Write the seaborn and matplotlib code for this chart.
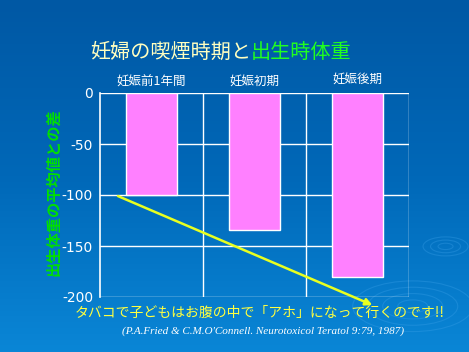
import numpy as np
import pandas as pd
import matplotlib
matplotlib.use('Agg')
import matplotlib.pyplot as plt
import seaborn as sns

periods = ['妊娠前1年間', '妊娠初期', '妊娠後期']
diff = [-100, -134, -180]
yticks = [0, -50, -100, -150, -200]

df = pd.DataFrame({'period': periods, 'diff': diff})

sns.set_theme(style='white')
plt.rcParams['font.family'] = ['Noto Sans CJK JP', 'DejaVu Sans']

fig = plt.figure(figsize=(4.69, 3.52), dpi=100)

# blue gradient background
bg = fig.add_axes([0, 0, 1, 1], zorder=-10)
grad = np.linspace(0, 1, 256).reshape(-1, 1)
cmap = matplotlib.colors.LinearSegmentedColormap.from_list('bg', ['#0058a4', '#0068b8', '#0a86d6'])
bg.imshow(grad, aspect='auto', cmap=cmap, extent=[0, 1, 0, 1], origin='upper')
# faint ripples bottom right
for r in [0.04, 0.08, 0.12, 0.16]:
    bg.add_patch(matplotlib.patches.Ellipse((0.88, 0.13), r * 1.6, r * 0.9, fill=False,
                                            ec='#3aa0e8', lw=0.8, alpha=0.35))
for r in [0.02, 0.04, 0.06]:
    bg.add_patch(matplotlib.patches.Ellipse((0.95, 0.30), r * 1.6, r * 0.9, fill=False,
                                            ec='#3aa0e8', lw=0.8, alpha=0.35))
bg.set_xlim(0, 1)
bg.set_ylim(0, 1)
bg.axis('off')

ax = fig.add_axes([100 / 469, 1 - 297 / 352, 309 / 469, 204 / 352])
ax.set_facecolor('none')
sns.barplot(data=df, x='period', y='diff', color='#ff80ff', width=0.49,
            edgecolor='white', linewidth=1, saturation=1, ax=ax, zorder=3)
ax.set_ylim(-200, 0)
ax.set_xlim(-0.5, 2.5)
ax.set_yticks(yticks)
ax.set_yticklabels([str(v) for v in yticks], color='white', fontsize=10, family='DejaVu Sans')
ax.tick_params(axis='y', length=5, color='white', width=1, pad=0)
ax.set_xticks([])
ax.set_xlabel('')
ax.set_ylabel('')
for v in [-50, -100, -150, -200, 0]:
    ax.axhline(v, color='white', lw=1, zorder=1)
for v in [0.5, 1.5, 2.5]:
    ax.axvline(v, color='white', lw=1, zorder=1)
for s in ax.spines.values():
    s.set_visible(False)
ax.spines['left'].set_visible(True)
ax.spines['left'].set_color('white')
ax.spines['left'].set_linewidth(1.2)

# y label, placed by hand so it sits close to the ticks as in the slide
fig.text(53 / 469, 1 - 192 / 352, '出生体重の平均値との差', rotation=90, ha='center', va='center',
         color='#00e000', fontsize=11, fontweight='bold')

# category labels above the plot
for i, p in enumerate(periods):
    ax.text(i, 4 + (2 if i == 2 else 0), p, ha='center', va='bottom', color='white', fontsize=9)

# yellow arrow
ax.annotate('', xy=(2.17, -209), xytext=(-0.35, -100), annotation_clip=False,
            arrowprops=dict(arrowstyle='-|>', color='#e8ff20', lw=1.8, mutation_scale=10),
            zorder=5)

# title: two colours
fig.text(0.535, 0.852, '妊婦の喫煙時期と', ha='right', va='center', color='#ffffc0', fontsize=14.5)
fig.text(0.535, 0.852, '出生時体重', ha='left', va='center', color='#20ff20', fontsize=14.5)

fig.text(0.553, 0.11, 'タバコで子どもはお腹の中で「アホ」になって行くのです!!',
         ha='center', va='center', color='#ffff40', fontsize=10)
fig.text(0.56, 0.06, "(P.A.Fried & C.M.O'Connell. Neurotoxicol Teratol 9:79, 1987)",
         ha='center', va='center', color='white', fontsize=8, style='italic',
         family='Liberation Serif')

plt.savefig('out.png', dpi=100)
